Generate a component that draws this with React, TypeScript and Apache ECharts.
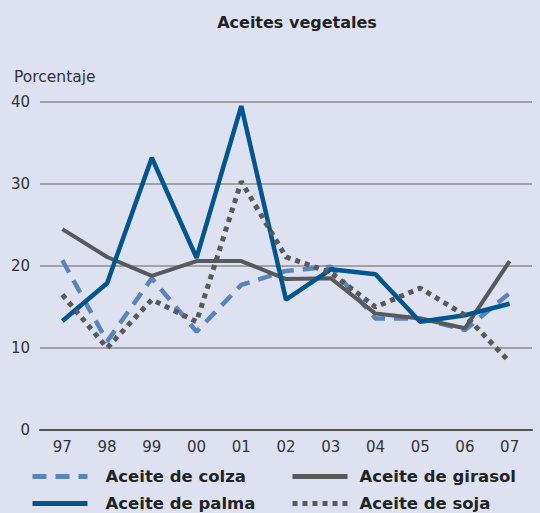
import React, { useEffect, useRef } from "react";
import * as echarts from "echarts";

const years = ["97", "98", "99", "00", "01", "02", "03", "04", "05", "06", "07"];
const colza = [20.7, 10.8, 18.5, 12.0, 17.7, 19.4, 19.9, 13.6, 13.6, 12.2, 16.7];
const palma = [13.3, 17.9, 33.2, 21.0, 39.5, 15.9, 19.6, 19.0, 13.2, 14.0, 15.4];
const girasol = [24.5, 21.1, 18.8, 20.6, 20.6, 18.4, 18.5, 14.2, 13.6, 12.4, 20.6];
const soja = [16.5, 10.0, 15.9, 13.2, 30.3, 21.1, 19.2, 15.0, 17.3, 14.0, 8.3];
const yTicks = [0, 10, 20, 30, 40];

const FONT = "'DejaVu Sans', sans-serif";

export default function App() {
  const ref = useRef<HTMLDivElement>(null);
  useEffect(() => {
    if (!ref.current) return;
    const chart = echarts.init(ref.current, undefined, { renderer: "svg" });
    const legendText = { fontFamily: FONT, fontSize: 16.5, fontWeight: "bold", color: "#222", lineHeight: 16 };
    const legendCommon = {
      orient: "vertical",
      top: 468,
      padding: 0,
      itemWidth: 55,
      itemHeight: 14,
      itemGap: 10,
      itemStyle: { opacity: 0 },
      lineStyle: { width: 5 },
    };
    chart.setOption({
      animation: false,
      backgroundColor: "#dee2f0",
      title: {
        text: "Aceites vegetales",
        left: 292,
        textAlign: "center",
        top: 9,
        textStyle: { fontFamily: FONT, fontSize: 16, fontWeight: "bold", color: "#222" },
      },
      graphic: [
        {
          type: "text",
          left: 14,
          top: 69,
          style: { text: "Porcentaje", font: `15.5px ${FONT}`, fill: "#333" },
        },
      ],
      grid: { left: 40, right: 8, top: 102, bottom: 83, containLabel: false },
      legend: [
        {
          ...legendCommon,
          data: ["Aceite de colza", "Aceite de palma"],
          left: 30,
          textStyle: { ...legendText, padding: [0, 0, 0, 13] },
        },
        {
          ...legendCommon,
          data: ["Aceite de girasol", "Aceite de soja"],
          left: 290,
          textStyle: { ...legendText, padding: [0, 0, 0, 7] },
        },
      ],
      xAxis: {
        type: "category",
        data: years,
        boundaryGap: true,
        axisLine: { lineStyle: { color: "#555", width: 2 } },
        axisTick: { inside: true, alignWithLabel: true, length: 7, lineStyle: { color: "#222", width: 2 } },
        axisLabel: { fontFamily: FONT, fontSize: 15, color: "#333", margin: 9 },
      },
      yAxis: {
        type: "value",
        min: yTicks[0],
        max: yTicks[yTicks.length - 1],
        interval: 10,
        axisLine: { show: false },
        axisTick: { show: false },
        axisLabel: { fontFamily: FONT, fontSize: 15, color: "#333", margin: 10 },
        splitLine: { lineStyle: { color: "#8c8c8c", width: 1.5 } },
      },
      series: [
        {
          name: "Aceite de colza",
          type: "line",
          data: colza,
          symbol: "none",
          color: "#5a84bd",
          lineStyle: { width: 4.5, type: [14, 9], color: "#5a84bd" },
          z: 2,
        },
        {
          name: "Aceite de girasol",
          type: "line",
          data: girasol,
          symbol: "none",
          color: "#58595b",
          lineStyle: { width: 4, color: "#58595b" },
          z: 3,
        },
        {
          name: "Aceite de palma",
          type: "line",
          data: palma,
          symbol: "none",
          color: "#00568f",
          lineStyle: { width: 4.5, color: "#00568f" },
          z: 4,
        },
        {
          name: "Aceite de soja",
          type: "line",
          data: soja,
          symbol: "none",
          color: "#58595b",
          lineStyle: { width: 5, type: [5, 5], color: "#58595b" },
          z: 5,
        },
      ],
    });
    return () => chart.dispose();
  }, []);
  return <div ref={ref} style={{ width: 540, height: 513, position: "absolute", left: 0, top: 0 }} />;
}
